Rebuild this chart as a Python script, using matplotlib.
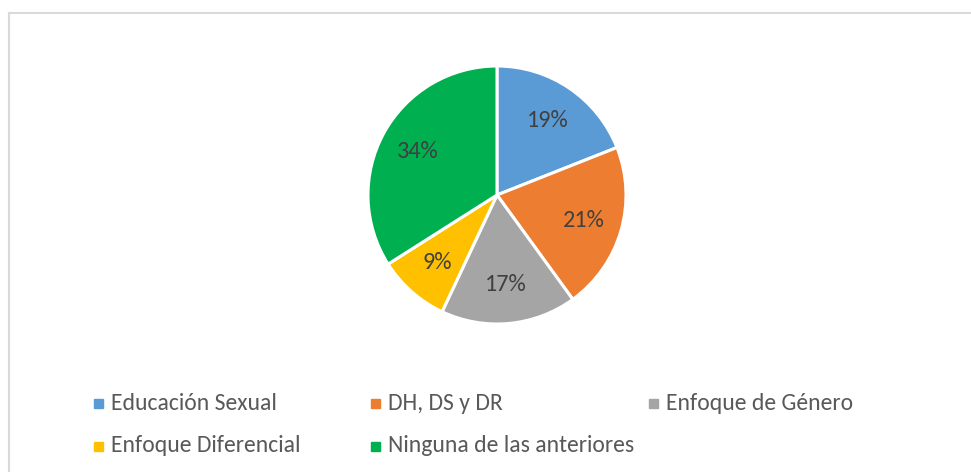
import matplotlib.pyplot as plt
from matplotlib.patches import Rectangle
from matplotlib.lines import Line2D

# datos
categorias = ['Educación Sexual', 'DH, DS y DR', 'Enfoque de Género',
              'Enfoque Diferencial', 'Ninguna de las anteriores']
porcentajes = [19, 21, 17, 9, 34]
colores = ['#5b9bd5', '#ed7d31', '#a5a5a5', '#ffc000', '#00b050']

plt.rcParams['font.family'] = ['Carlito', 'Lato', 'DejaVu Sans']

W, H = 971, 472
fig = plt.figure(figsize=(W / 100, H / 100), dpi=100)

# marco del gráfico
fig.add_artist(Line2D([8.5 / W, 1], [1 - 12.5 / H, 1 - 12.5 / H], color='#d9d9d9', lw=1.5))
fig.add_artist(Line2D([8.5 / W, 8.5 / W], [0, 1 - 12.5 / H], color='#d9d9d9', lw=1.5))

# pastel
cx, cy, r = 497, 195, 129
ax = fig.add_axes([(cx - r) / W, 1 - (cy + r) / H, 2 * r / W, 2 * r / H])
ax.pie(porcentajes, colors=colores, startangle=90, counterclock=False,
       autopct='%1.0f%%', pctdistance=0.7,
       wedgeprops=dict(edgecolor='white', linewidth=2.2),
       textprops=dict(color='#404040', fontsize=17.5))
ax.set_xlim(-1, 1)
ax.set_ylim(-1, 1)
ax.set_aspect('equal')
ax.axis('off')

# leyenda
col_x = [98, 375, 653]
fila_y = [403, 446]
for i, (cat, c) in enumerate(zip(categorias, colores)):
    x = col_x[i % 3]
    y = fila_y[i // 3]
    fig.add_artist(Rectangle(((x - 4.5) / W, 1 - (y + 4.5) / H), 9 / W, 9 / H,
                             color=c, transform=fig.transFigure))
    fig.text((x + 13) / W, 1 - y / H, cat, color='#595959', fontsize=17,
             va='center', ha='left')

fig.savefig('out.png', dpi=100, facecolor='white')
